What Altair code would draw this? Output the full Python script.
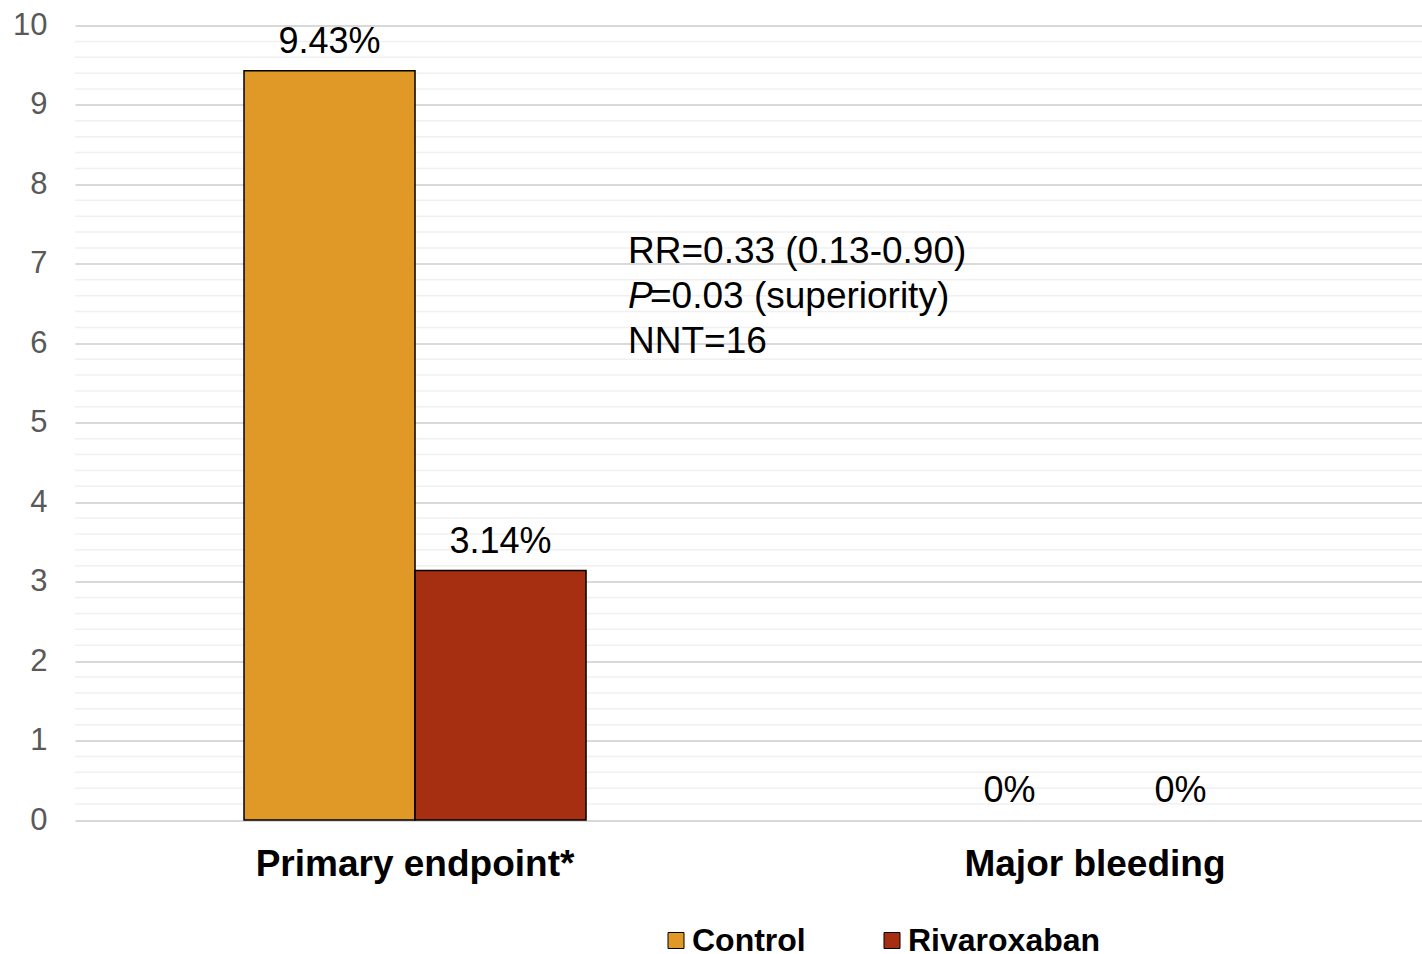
import altair as alt
import pandas as pd

# Event rates (%) by endpoint and treatment arm
categories = ["Primary endpoint*", "Major bleeding"]
arms = ["Control", "Rivaroxaban"]
control_rates = [9.43, 0]
rivaroxaban_rates = [3.14, 0]
control_labels = ["9.43%", "0%"]
rivaroxaban_labels = ["3.14%", "0%"]
arm_colors = ["#E09826", "#A52F10"]

rows = []
for i, cat in enumerate(categories):
    rows.append({"endpoint": cat, "arm": arms[0], "rate": control_rates[i], "label": control_labels[i]})
    rows.append({"endpoint": cat, "arm": arms[1], "rate": rivaroxaban_rates[i], "label": rivaroxaban_labels[i]})
df = pd.DataFrame(rows)

FONT = "Liberation Sans"
W, H = 1347, 794.5
y_scale = alt.Scale(domain=[0, 10], nice=False)
x_scale = alt.Scale(paddingInner=0.497, paddingOuter=0.239, align=0.52)

y_axis = alt.Axis(values=list(range(0, 11)), grid=True, gridColor="#d9d9d9", gridWidth=2,
                  labelFont=FONT, labelFontSize=31, labelColor="#595959", labelPadding=28,
                  ticks=False, domain=False)
x_axis = alt.Axis(labelAngle=0, labelFont=FONT, labelFontSize=37, labelFontWeight="bold",
                  labelColor="black", labelPadding=26, labelLimit=1000,
                  ticks=False, domain=False)

# light minor gridlines every 0.2; this layer also carries the y axis
minor = pd.DataFrame({"v": [round(i * 0.2, 1) for i in range(1, 50) if i % 5]})
minor_rules = alt.Chart(minor).mark_rule(color="#f0f0f0", strokeWidth=1.5).encode(
    y=alt.Y("v:Q", scale=y_scale, axis=y_axis, title=None)
)

base = alt.Chart(df)

bars = base.mark_bar(stroke="black").encode(
    x=alt.X("endpoint:N", sort=categories, scale=x_scale, title=None, axis=x_axis),
    xOffset=alt.XOffset("arm:N", sort=arms),
    y=alt.Y("rate:Q", scale=y_scale, title=None, axis=y_axis),
    color=alt.Color("arm:N", sort=arms, scale=alt.Scale(domain=arms, range=arm_colors), title=None),
    strokeWidth=alt.condition("datum.rate > 0", alt.value(1.5), alt.value(0)),
)

value_labels = base.mark_text(font=FONT, fontSize=36, color="black", baseline="alphabetic", dy=-18).encode(
    x=alt.X("endpoint:N", sort=categories, scale=x_scale, title=None, axis=x_axis),
    xOffset=alt.XOffset("arm:N", sort=arms),
    y=alt.Y("rate:Q", scale=y_scale, title=None, axis=y_axis),
    text="label:N",
)


def note(text, x, y, style="normal"):
    return alt.Chart(pd.DataFrame({"t": [text]})).mark_text(
        font=FONT, fontSize=37, color="black", align="left", baseline="middle", fontStyle=style
    ).encode(text="t:N", x=alt.value(x), y=alt.value(y))


notes = [
    note("RR=0.33 (0.13-0.90)", 553, 226.5),
    note("P", 553, 271.5, "italic"),
    note("=0.03 (superiority)", 575, 271.5),
    note("NNT=16", 553, 316.5),
]

chart = alt.layer(minor_rules, bars, value_labels, *notes).properties(
    width=W, height=H,
    autosize=alt.AutoSizeParams(type="none"),
    padding={"left": 75, "top": 25.5, "right": 0, "bottom": 134},
).configure_view(strokeWidth=0).configure_legend(
    orient="none", legendX=585, legendY=899, direction="horizontal",
    symbolType="square", symbolSize=256, symbolStrokeColor="black", symbolStrokeWidth=1,
    labelFont=FONT, labelFontSize=32, labelFontWeight="bold", labelColor="black",
    labelOffset=0, columnPadding=70, labelLimit=1000,
)

chart.save("out.html", embed_options={"renderer": "svg", "actions": False})
